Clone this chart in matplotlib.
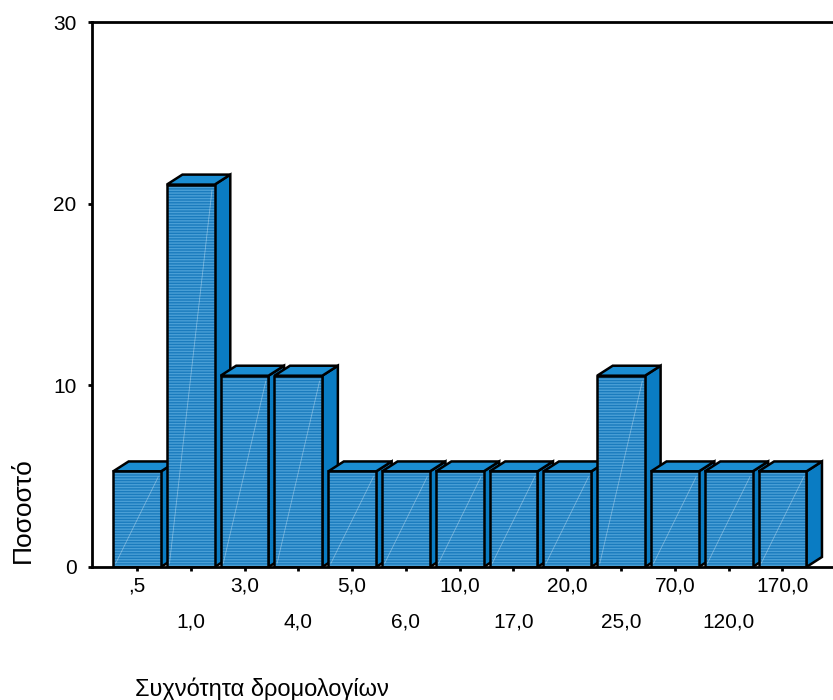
import matplotlib
matplotlib.use("Agg")
import matplotlib.pyplot as plt
from matplotlib.patches import Polygon, Rectangle

# frequency of routes -> percent of cases
categories = [",5", "1,0", "3,0", "4,0", "5,0", "6,0", "10,0", "17,0", "20,0", "25,0", "70,0", "120,0", "170,0"]
percents = [5.26, 21.05, 10.53, 10.53, 5.26, 5.26, 5.26, 5.26, 5.26, 10.53, 5.26, 5.26, 5.26]
yticks = [0, 10, 20, 30]

plt.rcParams['font.family'] = ['Liberation Sans', 'DejaVu Sans']
plt.rcParams['hatch.linewidth'] = 1.0

front_col = '#1a7bbd'
stripe_col = '#4a9fd6'
top_col = '#1a8dd2'
side_col = '#0a7cc3'

fig = plt.figure(figsize=(8.33, 7), dpi=100)
ax = fig.add_axes([92/833, 1 - 567/700, 1 - 92/833, (567 - 22)/700])

w = 0.89     # bar width (category units)
dx = 0.29    # depth offset, x
dy = 0.55    # depth offset, y

for i, v in enumerate(percents):
    z = 2 + i
    x0, x1 = i - w/2, i + w/2
    # side face
    ax.add_patch(Polygon([(x1, 0), (x1 + dx, dy), (x1 + dx, v + dy), (x1, v)],
                         closed=True, facecolor=side_col, edgecolor='black', lw=1.8, zorder=z))
    # top face
    ax.add_patch(Polygon([(x0, v), (x1, v), (x1 + dx, v + dy), (x0 + dx, v + dy)],
                         closed=True, facecolor=top_col, edgecolor='black', lw=1.8, zorder=z))
    # front face + stripes
    ax.add_patch(Rectangle((x0, 0), w, v, facecolor=front_col, edgecolor='none', zorder=z))
    ax.add_patch(Rectangle((x0, 0), w, v, facecolor='none', edgecolor=stripe_col, lw=0,
                           hatch='------', zorder=z))
    ax.plot([x0 + 0.05, x1 - 0.05], [0.2, v - 0.3], color='white', lw=0.6, alpha=0.35, zorder=z)
    ax.add_patch(Rectangle((x0, 0), w, v, facecolor='none', edgecolor='black', lw=1.8, zorder=z))

ax.set_xlim(-0.836, 12.94)
ax.set_ylim(0, 30)

ax.set_xticks(range(len(categories)))
labels = [c if i % 2 == 0 else "\n" + c for i, c in enumerate(categories)]
ax.set_xticklabels(labels, fontsize=15, linespacing=2.1)
ax.set_yticks(yticks)
ax.set_yticklabels([str(t) for t in yticks], fontsize=15)
ax.tick_params(axis='x', length=3, width=2, pad=4)
ax.tick_params(axis='y', length=3, width=2, pad=8)

ax.spines['right'].set_visible(False)
for s in ['left', 'bottom', 'top']:
    ax.spines[s].set_linewidth(2)
    ax.spines[s].set_zorder(30)

fig.text(23/833, 1 - 563/700, "Ποσοστό", rotation=90, ha='center', va='bottom', fontsize=19)
fig.text(135/833, 1 - 696/700, "Συχνότητα δρομολογίων", ha='left', va='baseline', fontsize=17)

plt.savefig("out.png", dpi=100)
